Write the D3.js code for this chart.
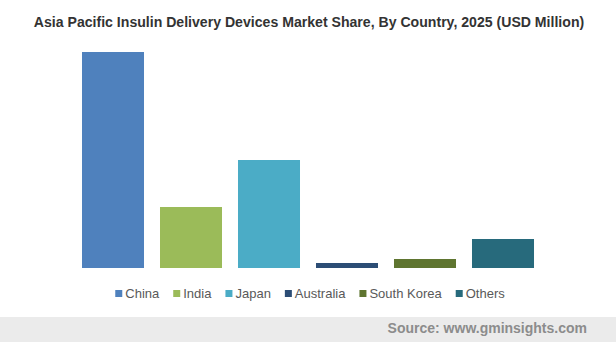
<!DOCTYPE html>
<html>
<head>
<meta charset="utf-8">
<script src="https://cdn.jsdelivr.net/npm/d3@7"></script>
<style>
  html, body { margin: 0; padding: 0; background: #fff; }
  svg { display: block; }
</style>
</head>
<body>
<svg id="chart" width="616" height="342"></svg>
<script>
// Market size by country, USD million
const countries = ["China", "India", "Japan", "Australia", "South Korea", "Others"];
const marketValues = [2160, 610, 1080, 50, 90, 290];
const barColors = ["#4f81bd", "#9bbb59", "#4bacc6", "#2c4d75", "#5f7530", "#276a7c"];

const W = 616, H = 342;
const svg = d3.select("#chart");

// Title
svg.append("text")
  .attr("x", W / 2 + 1)
  .attr("y", 27)
  .attr("text-anchor", "middle")
  .attr("font-family", "Liberation Sans, Arial, sans-serif")
  .attr("font-weight", "bold")
  .attr("font-size", 14.1)
  .attr("fill", "#333333")
  .text("Asia Pacific Insulin Delivery Devices Market Share, By Country, 2025 (USD Million)");

// Scales
const x = d3.scaleBand()
  .domain(countries)
  .range([74, 542])
  .paddingInner(0.205)
  .paddingOuter(0.1025);

const y = d3.scaleLinear()
  .domain([0, 2160])
  .range([268, 52]);

// Bars
svg.append("g")
  .selectAll("rect")
  .data(countries)
  .join("rect")
  .attr("x", d => x(d))
  .attr("width", x.bandwidth())
  .attr("y", (d, i) => y(marketValues[i]))
  .attr("height", (d, i) => y(0) - y(marketValues[i]))
  .attr("fill", (d, i) => barColors[i]);

// Legend
const legend = svg.append("g").attr("font-family", "Liberation Sans, Arial, sans-serif")
  .attr("font-size", 13);
const items = legend.selectAll("g")
  .data(countries)
  .join("g");
items.append("rect")
  .attr("width", 7).attr("height", 7)
  .attr("y", 290)
  .attr("fill", (d, i) => barColors[i]);
items.append("text")
  .attr("x", 10)
  .attr("y", 298)
  .attr("fill", "#595959")
  .text(d => d);

// Lay out legend entries in a centered row
let cursor = 0;
const offsets = [];
items.each(function () {
  const tw = d3.select(this).select("text").node().getComputedTextLength();
  offsets.push(cursor);
  cursor += 10 + tw + 14;
});
const total = cursor - 14;
const start = 310 - total / 2;
items.attr("transform", (d, i) => `translate(${start + offsets[i]},0)`);

// Footer band with source
svg.append("rect")
  .attr("x", 0).attr("y", 317)
  .attr("width", W).attr("height", H - 317)
  .attr("fill", "#ebebeb");
svg.append("text")
  .attr("x", 587)
  .attr("y", 333)
  .attr("text-anchor", "end")
  .attr("font-family", "Liberation Sans, Arial, sans-serif")
  .attr("font-weight", "bold")
  .attr("font-size", 14)
  .attr("fill", "#8c8c8c")
  .text("Source: www.gminsights.com");
</script>
</body>
</html>
